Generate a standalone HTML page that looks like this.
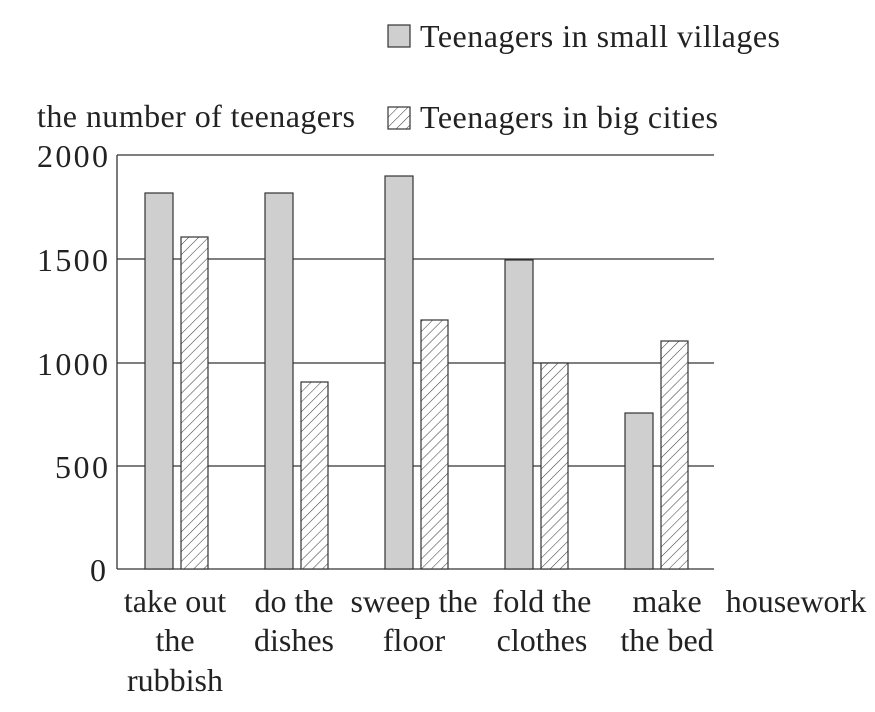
<!DOCTYPE html>
<html><head><style>body{margin:0;background:#fff}svg{display:block}text{font-family:"Liberation Serif",serif;font-size:32px;fill:#222}</style></head>
<body>
<svg width="875" height="712" viewBox="0 0 875 712">
<defs><pattern id="h" width="7" height="7" patternUnits="userSpaceOnUse" patternTransform="rotate(45)"><rect width="7" height="7" fill="#fff"/><line x1="0" y1="0" x2="0" y2="7" stroke="#444" stroke-width="1.1"/></pattern></defs>
<g stroke="#333" stroke-width="1.3">
<line x1="117" y1="155" x2="714" y2="155"/>
<line x1="117" y1="259" x2="714" y2="259"/>
<line x1="117" y1="363" x2="714" y2="363"/>
<line x1="117" y1="466" x2="714" y2="466"/>
<line x1="117" y1="569" x2="714" y2="569"/>
<line x1="117" y1="155" x2="117" y2="569"/>
</g>
<g stroke="#333" stroke-width="1.2" fill="#cfcfcf">
<rect x="145" y="193" width="28" height="376"/>
<rect x="265" y="193" width="28" height="376"/>
<rect x="385" y="176" width="28" height="393"/>
<rect x="505" y="260" width="28" height="309"/>
<rect x="625" y="413" width="28" height="156"/>
</g>
<g stroke="#333" stroke-width="1.2" fill="url(#h)">
<rect x="181" y="237" width="27" height="332"/>
<rect x="301" y="382" width="27" height="187"/>
<rect x="421" y="320" width="27" height="249"/>
<rect x="541" y="363" width="27" height="206"/>
<rect x="661" y="341" width="27" height="228"/>
</g>
<g>
<text x="37" y="167" textLength="71">2000</text><text x="37" y="271" textLength="71">1500</text><text x="37" y="375" textLength="71">1000</text><text x="55" y="478" textLength="53">500</text><text x="90" y="581" textLength="18">0</text>
</g>
<text x="37" y="127" textLength="318">the number of teenagers</text>
<rect x="388" y="25" width="22" height="22" fill="#cfcfcf" stroke="#333" stroke-width="1.2"/>
<text x="420" y="47" textLength="360">Teenagers in small villages</text>
<rect x="388" y="107" width="22" height="22" fill="url(#h)" stroke="#333" stroke-width="1.2"/>
<text x="420" y="128" textLength="298">Teenagers in big cities</text>
<g text-anchor="middle">
<text x="175" y="612">take out</text><text x="175" y="651">the</text><text x="175" y="691">rubbish</text>
<text x="294" y="612">do the</text><text x="294" y="651">dishes</text>
<text x="414" y="612">sweep the</text><text x="414" y="651">floor</text>
<text x="542" y="612">fold the</text><text x="542" y="651">clothes</text>
<text x="667" y="612">make</text><text x="667" y="651">the bed</text>
<text x="796" y="612">housework</text>
</g>
</svg>
</body></html>
